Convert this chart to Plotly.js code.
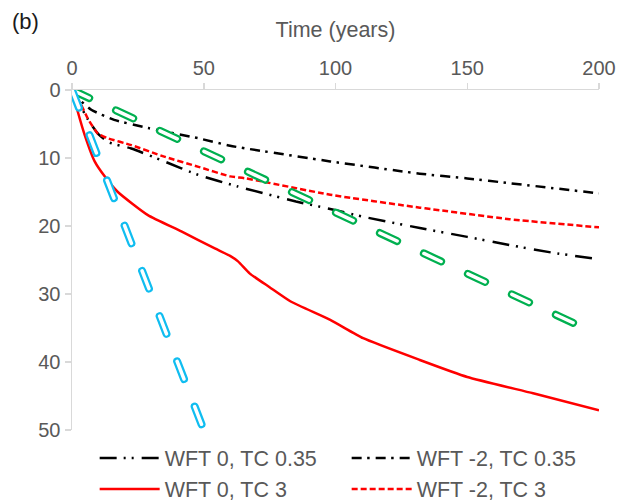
<!DOCTYPE html>
<html>
<head>
<meta charset="utf-8">
<script src="https://cdn.plot.ly/plotly-3.0.1.min.js"></script>
<style>
  html, body { margin: 0; padding: 0; background: #fff; }
  #chart { width: 631px; height: 503px; }
  /* rounded ends for the outlined (hollow) dashed lines */
  .scatterlayer .trace:nth-child(n+5) .js-line { stroke-linecap: round; }
</style>
</head>
<body>
<div id="chart"></div>
<script>
// Depth of the front (m, downwards) against time (years)

// WFT 0, TC 0.35
const t_wft0_tc035 = [0, 3, 6, 10, 14, 22.5, 35, 48, 63, 85, 98, 110, 132, 150, 166, 182, 200];
const d_wft0_tc035 = [0, 2.2, 4.3, 6.5, 7.7, 8.6, 10.5, 12.5, 14.2, 16.4, 17.5, 18.6, 20.3, 21.6, 22.8, 23.9, 24.9];

// WFT -2, TC 0.35
const t_wftm2_tc035 = [0, 2.2, 7.3, 16, 29, 48, 60, 66, 98, 132, 150, 166, 200];
const d_wftm2_tc035 = [0, 1.2, 2.9, 4.4, 5.6, 7.1, 8.2, 8.6, 10.5, 12.3, 13.0, 13.7, 15.2];

// WFT 0, TC 3
const t_wft0_tc3 = [0, 2.2, 4.8, 8.6, 12.4, 17.4, 28.8, 41.5, 54.2, 60, 63, 67.5, 75, 83, 98, 110.5, 132, 150, 175, 200];
const d_wft0_tc3 = [0, 3.2, 6.6, 10.5, 12.7, 15.0, 18.4, 20.8, 23.3, 24.4, 25.2, 27.0, 29.0, 31.1, 33.8, 36.5, 39.7, 42.2, 44.6, 47.1];

// WFT -2, TC 3
const t_wftm2_tc3 = [0, 3.5, 6, 9.8, 13.6, 22.5, 35, 48, 60, 66, 98, 132, 136, 166, 200];
const d_wftm2_tc3 = [0, 2.2, 4.2, 6.4, 7.1, 8.1, 9.8, 11.3, 12.7, 13.0, 15.4, 17.3, 17.5, 19.0, 20.2];

// reference lines (outlined dashes)
const t_green = [0, 200];
const d_green = [0, 36];
const t_cyan = [0, 50];
const d_cyan = [0, 50];

const xTicks = [0, 50, 100, 150, 200];
const yTicks = [0, 10, 20, 30, 40, 50];

const GREY = '#595959';
const AXIS = '#d9d9d9';
const FONT = '"Liberation Sans", Arial, sans-serif';

const hollowDash = '19px,29.5px';

function line(x, y, name, color, width, dash, legend, smooth) {
  return {
    type: 'scatter', mode: 'lines', x: x, y: y, name: name,
    showlegend: legend, hoverinfo: 'skip',
    line: smooth
      ? { color: color, width: width, dash: dash, shape: 'spline', smoothing: 0.5 }
      : { color: color, width: width, dash: dash }
  };
}

const data = [
  line(t_wft0_tc035, d_wft0_tc035, 'WFT 0, TC 0.35', '#000000', 2.5, '17px,7px,2px,6px,2px,8px', true, true),
  line(t_wftm2_tc035, d_wftm2_tc035, 'WFT -2, TC 0.35', '#000000', 2.5, '10px,5.5px,2.5px,6px', true, true),
  line(t_wft0_tc3, d_wft0_tc3, 'WFT 0, TC 3', '#ff0000', 2.5, 'solid', true, true),
  line(t_wftm2_tc3, d_wftm2_tc3, 'WFT -2, TC 3', '#ff0000', 2.5, '6px,3px', true, true),
  line(t_green, d_green, 'green', '#00b050', 8, hollowDash, false, false),
  line(t_green, d_green, 'green inner', '#ffffff', 3.5, hollowDash, false, false),
  line(t_cyan, d_cyan, 'cyan', '#10bdf0', 8, hollowDash, false, false),
  line(t_cyan, d_cyan, 'cyan inner', '#ffffff', 3.5, hollowDash, false, false)
];

const layout = {
  width: 631, height: 503,
  margin: { l: 72, r: 32, t: 90, b: 73, autoexpand: false },
  paper_bgcolor: '#ffffff', plot_bgcolor: '#ffffff',
  font: { family: FONT, size: 20, color: GREY },
  showlegend: true,
  xaxis: {
    side: 'top', range: [0, 200], tickvals: xTicks,
    showline: true, linecolor: AXIS, linewidth: 1.5,
    ticks: 'outside', ticklen: 6, tickcolor: AXIS, tickwidth: 1.5,
    showgrid: false, zeroline: false,
    tickfont: { size: 20, color: GREY },
    title: { text: 'Time (years)', font: { size: 21.5, color: GREY }, standoff: 13 }
  },
  yaxis: {
    range: [50, 0], tickvals: yTicks,
    showline: true, linecolor: AXIS, linewidth: 1.5,
    ticks: 'outside', ticklen: 6, tickcolor: AXIS, tickwidth: 1.5,
    showgrid: false, zeroline: false,
    tickfont: { size: 20, color: GREY }
  },
  legend: {
    orientation: 'h', x: 0.043, xanchor: 'left', y: -0.022, yanchor: 'top',
    font: { size: 21.5, color: GREY }, itemwidth: 60,
    entrywidth: 177, entrywidthmode: 'pixels',
    bgcolor: 'rgba(0,0,0,0)'
  },
  annotations: [{
    text: '(b)', xref: 'paper', yref: 'paper', x: -0.118, y: 1.245,
    xanchor: 'left', yanchor: 'top', showarrow: false,
    font: { size: 22, color: '#1a1a1a' }
  }]
};

Plotly.newPlot('chart', data, layout, { displayModeBar: false, staticPlot: true });
</script>
</body>
</html>
